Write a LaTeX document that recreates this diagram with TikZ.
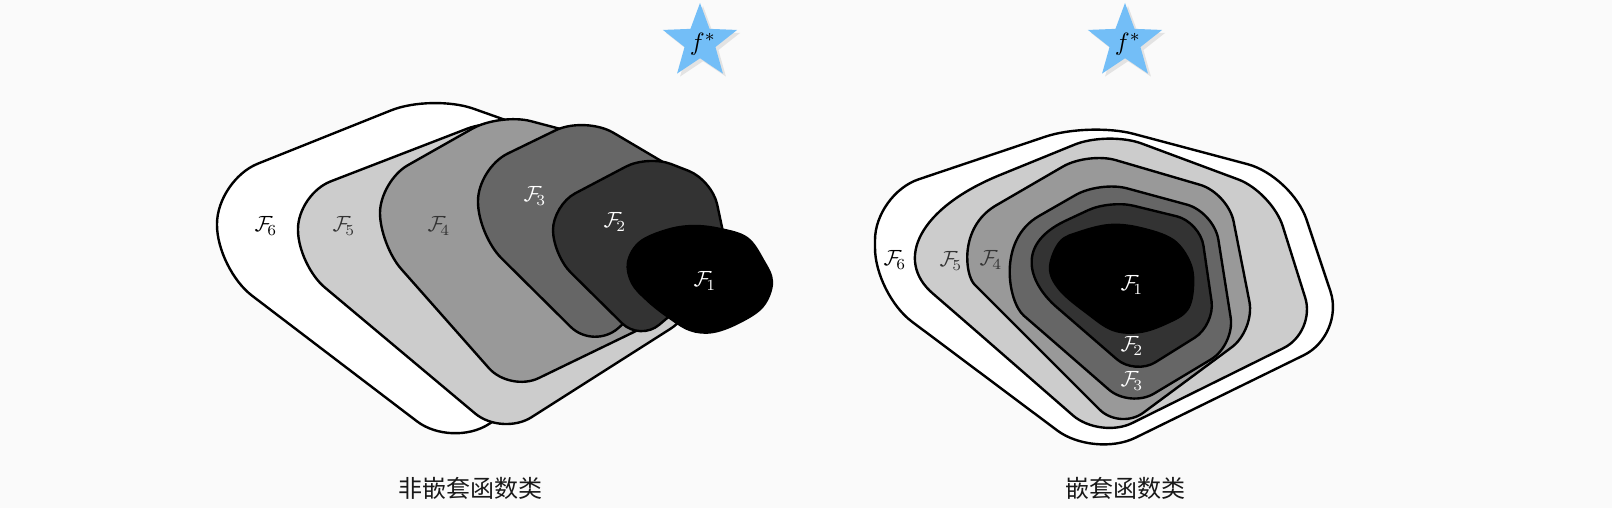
\documentclass[tikz,border=0pt]{standalone}
\usepackage{graphicx}
\usepackage{fontspec}
\newfontfamily\cjk{Noto Sans CJK SC}
\usetikzlibrary{shapes.geometric, shadows}

\definecolor{bgc}{HTML}{FAFAFA}
\definecolor{starblue}{HTML}{73BEF7}

\newcommand{\fcls}[1]{\scalebox{2.2}{$\mathcal{F}_{\!#1}$}}

\begin{document}
\begin{tikzpicture}[
    x=1pt, y=-1pt,
    region/.style={draw=black, line width=2.4pt, line join=round},
    flabel/.style={inner sep=0pt},
    fstar/.style={star, star points=5, star point ratio=2.4, minimum size=78pt, inner sep=0pt,
        fill=starblue, drop shadow={opacity=0.18, shadow xshift=3pt, shadow yshift=-3pt}},
    caption/.style={font=\cjk\fontsize{24}{28}\selectfont, text=black!90}
]

% background
\fill[bgc] (0,0) rectangle (1612,508);
\useasboundingbox (0,0) rectangle (1612,508);

% === LEFT: NON-NESTED CLASSES ===
\draw[region, fill=white, rounded corners=44pt] (217,180) -- (432,94) -- (590,150) -- (660,313) -- (452,448) -- (217,269) -- cycle;
\draw[region, fill=black!20, rounded corners=35pt] (298,194) -- (500,116) -- (680,195) -- (700,310) -- (502,436) -- (298,265) -- cycle;
\draw[region, fill=black!40, rounded corners=32pt] (380,181) -- (500,113) -- (640,150) -- (700,300) -- (510,392) -- (380,245) -- cycle;
\draw[region, fill=black!60, rounded corners=33pt] (478,168) -- (585,116) -- (690,178) -- (705,250) -- (594,350) -- (478,235) -- cycle;
\draw[region, fill=black!80, rounded corners=25pt] (553,205) -- (648,155) -- (712,180) -- (730,265) -- (640,341) -- (553,255) -- cycle;
\draw[region, fill=black] plot[smooth cycle, tension=0.6] coordinates {
    (628,262) (640,242) (667,230) (693,226) (720,229) (747,238) (763,260) (772,282)
    (763,306) (740,322) (713,332) (690,330) (667,316) (647,300) (632,283)};

\node[flabel] (lF6) at (266,226) {\fcls{6}};
\node[flabel, text=black!80] (lF5) at (344,226) {\fcls{5}};
\node[flabel, text=black!80] (lF4) at (439,226) {\fcls{4}};
\node[flabel, text=white] (lF3) at (535,196) {\fcls{3}};
\node[flabel, text=white] (lF2) at (615,222) {\fcls{2}};
\node[flabel, text=white] (lF1) at (705,281) {\fcls{1}};

\node[fstar] (starL) at (700,42) {};
\node[flabel] (fL) at (703,44) {\scalebox{2.5}{$f^*$}};
\node[caption] (capL) at (470,488) {非嵌套函数类};

% === RIGHT: NESTED CLASSES ===
\draw[region, fill=white, rounded corners=46pt] (875,194) -- (1089,122) -- (1292,176) -- (1345,335) -- (1094,458) -- (875,294) -- cycle;
% inner classes: round left cap drawn as a curve
\draw[region, fill=black!20, rounded corners=36pt] (1000,175) -- (1108,131) -- (1272,192) -- (1316,332) -- (1100,439) -- (960,317)
    [sharp corners] .. controls (894,260) and (919,208) .. (1000,175) -- cycle;
\draw[region, fill=black!40, rounded corners=29pt] (995,206) -- (1088,152) -- (1228,193) -- (1255,330) -- (1120,430) -- (995,305)
    [sharp corners] .. controls (965,275) and (959,228) .. (995,206) -- cycle;
\draw[region, fill=black!60, rounded corners=28pt] (1039,216) -- (1100,181) -- (1214,212) -- (1235,345) -- (1130,408) -- (1045,334)
    [sharp corners] .. controls (1008,302) and (997,240) .. (1039,216) -- cycle;
\draw[region, fill=black!80, rounded corners=24pt] (1065,221) -- (1110,200) -- (1200,222) -- (1215,325) -- (1135,375) -- (1075,323)
    [sharp corners] .. controls (1031,285) and (1013,246) .. (1065,221) -- cycle;
\draw[region, fill=black] plot[smooth cycle, tension=0.6] coordinates {
    (1050,268) (1060,242) (1080,232) (1110,225) (1140,228) (1173,240) (1190,263)
    (1193,287) (1187,310) (1167,323) (1140,332) (1113,330) (1087,313) (1060,290)};

\node[flabel] (rF6) at (895,260) {\fcls{6}};
\node[flabel, text=black!80] (rF5) at (951,261) {\fcls{5}};
\node[flabel, text=black!80] (rF4) at (991,260) {\fcls{4}};
\node[flabel, text=white] (rF1) at (1132,285) {\fcls{1}};
\node[flabel, text=white] (rF2) at (1132,346) {\fcls{2}};
\node[flabel, text=white] (rF3) at (1132,381) {\fcls{3}};

\node[fstar] (starR) at (1125,42) {};
\node[flabel] (fR) at (1128,44) {\scalebox{2.5}{$f^*$}};
\node[caption] (capR) at (1125,488) {嵌套函数类};

\end{tikzpicture}
\end{document}
